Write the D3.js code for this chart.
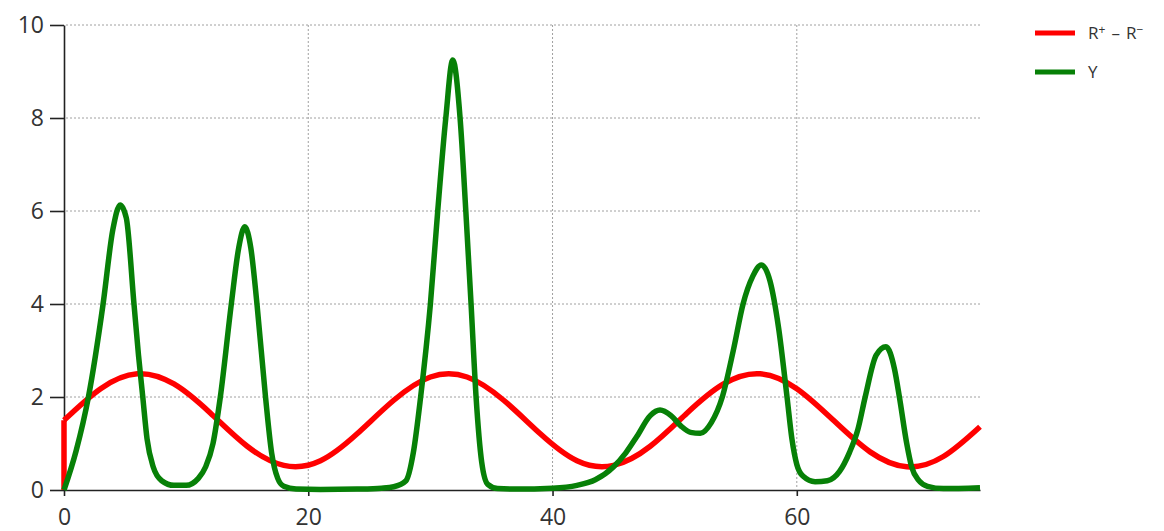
<!DOCTYPE html>
<html>
<head>
<meta charset="utf-8">
<script src="https://cdn.jsdelivr.net/npm/d3@7"></script>
<style>
	html, body { margin: 0; padding: 0; background: #fff; }
	svg { display: block; font-family: 'Open Sans', 'Noto Sans', sans-serif; }
	.tick text { fill: #333; }
</style>
</head>
<body>
<div data-chart></div>
<script>
const xTicks = [0, 20, 40, 60]
const yTicks = [0, 2, 4, 6, 8, 10]

const redT = [0, 3, 6, 9, 12, 15, 18, 21, 24, 27, 30, 33, 36, 39, 42, 45, 48, 51, 54, 57, 60, 63, 66, 69, 72, 75]
const redY = [1.5, 2.18, 2.5, 2.28, 1.65, 0.94, 0.53, 0.63, 1.21, 1.93, 2.43, 2.43, 1.93, 1.21, 0.63, 0.53, 0.94, 1.65, 2.28, 2.5, 2.18, 1.5, 0.82, 0.5, 0.72, 1.36]

const greenT = [0, 1, 2, 3.2, 4, 4.6, 5.1, 5.73, 6.1, 6.45, 6.8, 7.3, 8, 9, 10, 11, 11.6, 12.2, 12.8, 13.7, 14.3, 14.8, 15.3, 15.8, 16.5, 17, 17.5, 18, 19, 21, 24, 26, 27, 28, 28.6, 29.2, 30, 30.6, 31.26, 31.83, 32.43, 32.9, 33.33, 33.74, 34.2, 34.7, 35.5, 37, 40, 42, 43.5, 45, 46, 46.9, 48, 48.8, 49.7, 50.5, 51.3, 52.1, 53, 53.9, 54.8, 55.6, 56.4, 57.1, 57.8, 58.5, 59.2, 59.6, 60, 60.5, 61.5, 62.5, 63.5, 64.3, 65, 65.6, 66.5, 67.3, 68, 68.4, 69, 69.4, 70, 70.7, 72, 75]
const greenY = [0, 0.85, 2.0, 4.0, 5.6, 6.13, 5.85, 4.0, 2.9, 2.0, 1.1, 0.5, 0.2, 0.1, 0.1, 0.25, 0.5, 1.0, 2.0, 4.0, 5.2, 5.66, 5.2, 4.0, 2.0, 0.8, 0.25, 0.08, 0.02, 0.01, 0.02, 0.04, 0.07, 0.2, 0.8, 2.0, 4.0, 6.0, 8.0, 9.25, 8.0, 6.0, 4.0, 2.0, 0.6, 0.12, 0.03, 0.02, 0.04, 0.1, 0.22, 0.5, 0.8, 1.15, 1.6, 1.72, 1.6, 1.38, 1.24, 1.22, 1.45, 2.0, 3.0, 4.0, 4.6, 4.84, 4.5, 3.5, 2.0, 1.1, 0.55, 0.3, 0.18, 0.2, 0.4, 0.8, 1.3, 2.0, 2.9, 3.08, 2.6, 2.0, 1.0, 0.5, 0.2, 0.08, 0.03, 0.05]

const seriesColors = ['#ff0000', '#078007']

const dimensions = {
	width: 1164,
	height: 531,
	left: 64,
	right: 980,
	top: 25,
	bottom: 490
}

const toPoints = (ts, ys) => ts.map((t, i) => ({ t, v: ys[i] }))

const redData = toPoints(redT, redY)
const greenData = toPoints(greenT, greenY)

const svg = d3.select('[data-chart]')
	.append('svg')
	.attr('width', dimensions.width)
	.attr('height', dimensions.height)

const xScale = d3.scaleLinear()
	.domain([0, 75])
	.range([dimensions.left, dimensions.right])

const yScale = d3.scaleLinear()
	.domain([0, 10])
	.range([dimensions.bottom, dimensions.top])

/* Grid */
svg.append('g')
	.selectAll('line')
	.data(yTicks.filter((d) => d > 0))
	.join('line')
	.attr('x1', dimensions.left + 2)
	.attr('x2', dimensions.right)
	.attr('y1', (d) => yScale(d))
	.attr('y2', (d) => yScale(d))
	.attr('stroke', '#a0a0a0')
	.attr('stroke-dasharray', '2,2')

svg.append('g')
	.selectAll('line')
	.data(xTicks.filter((d) => d > 0))
	.join('line')
	.attr('x1', (d) => xScale(d))
	.attr('x2', (d) => xScale(d))
	.attr('y1', dimensions.top)
	.attr('y2', dimensions.bottom - 2)
	.attr('stroke', '#a0a0a0')
	.attr('stroke-dasharray', '2,2')

/* Axes */
svg.append('g')
	.attr('transform', `translate(${dimensions.left},0)`)
	.call(d3.axisLeft(yScale).tickValues(yTicks).tickSize(14).tickPadding(6).tickSizeOuter(0))

const xAxis = svg.append('g')
	.attr('transform', `translate(0,${dimensions.bottom})`)
	.call(d3.axisBottom(xScale).tickValues(xTicks).tickSize(6).tickPadding(15).tickSizeOuter(0))

svg.selectAll('.domain, .tick line')
	.attr('stroke', '#222')
	.attr('stroke-width', 1.6)

svg.selectAll('.tick text')
	.attr('font-size', 23)
	.attr('font-family', "'Open Sans', sans-serif")

xAxis.selectAll('.tick text').attr('dy', '0.62em')

/* Lines */
const redLine = d3.line()
	.x((d) => xScale(d.t))
	.y((d) => yScale(d.v))
	.curve(d3.curveNatural)

const greenLine = d3.line()
	.x((d) => xScale(d.t))
	.y((d) => yScale(d.v))
	.curve(d3.curveMonotoneX)

svg.append('line')
	.attr('x1', xScale(redT[0]))
	.attr('x2', xScale(redT[0]))
	.attr('y1', yScale(0))
	.attr('y2', yScale(redY[0]))
	.attr('stroke', seriesColors[0])
	.attr('stroke-width', 5.5)

svg.append('path')
	.datum(redData)
	.attr('d', redLine)
	.attr('fill', 'none')
	.attr('stroke', seriesColors[0])
	.attr('stroke-width', 5.5)
	.attr('stroke-linejoin', 'round')

svg.append('path')
	.datum(greenData)
	.attr('d', greenLine)
	.attr('fill', 'none')
	.attr('stroke', seriesColors[1])
	.attr('stroke-width', 5.5)
	.attr('stroke-linejoin', 'round')

/* Legend */
const legend = svg.append('g')
	.attr('transform', 'translate(1035,33)')

legend.append('line')
	.attr('x1', 0)
	.attr('x2', 40)
	.attr('stroke', seriesColors[0])
	.attr('stroke-width', 5)

const redLabel = legend.append('text')
	.attr('x', 53)
	.attr('dy', '0.35em')
	.attr('font-size', 17)
	.attr('fill', '#333')

redLabel.append('tspan').text('R')
redLabel.append('tspan').attr('font-size', 12).attr('dy', -5).text('+')
redLabel.append('tspan').attr('dy', 5).attr('dx', 6).text('–')
redLabel.append('tspan').attr('dx', 6).text('R')
redLabel.append('tspan').attr('font-size', 12).attr('dy', -5).text('−')

legend.append('line')
	.attr('x1', 0)
	.attr('x2', 40)
	.attr('y1', 39)
	.attr('y2', 39)
	.attr('stroke', seriesColors[1])
	.attr('stroke-width', 5)

legend.append('text')
	.attr('x', 53)
	.attr('y', 39)
	.attr('dy', '0.35em')
	.attr('font-size', 17)
	.attr('fill', '#333')
	.text('Y')
</script>
</body>
</html>
